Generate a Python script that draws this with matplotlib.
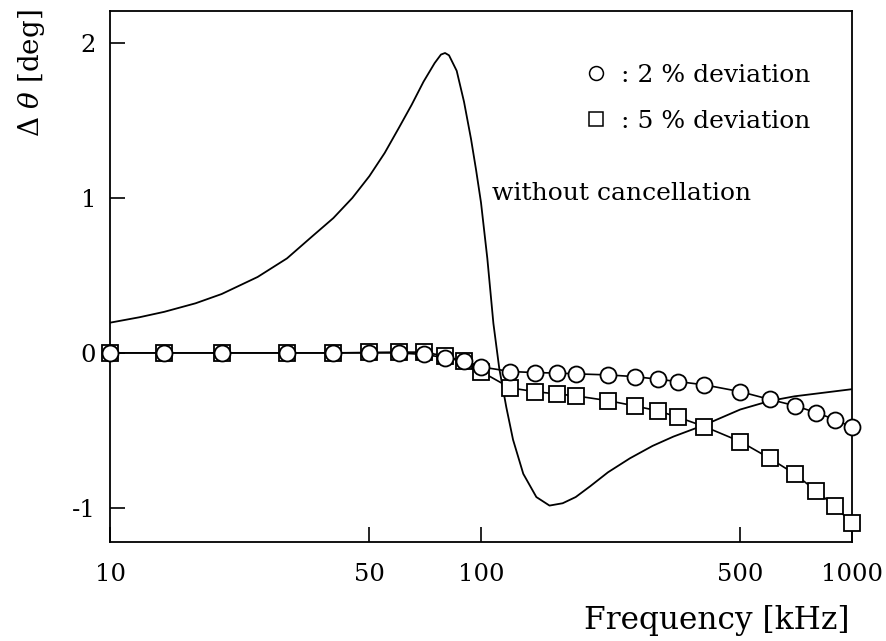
import matplotlib
matplotlib.use("Agg")
import matplotlib.pyplot as plt
from matplotlib.lines import Line2D

# ---- data ----
freq_pts = [10, 14, 20, 30, 40, 50, 60, 70, 80, 90, 100, 120, 140, 160, 180,
            220, 260, 300, 340, 400, 500, 600, 700, 800, 900, 1000]
dev2 = [0.0, 0.0, 0.0, 0.0, 0.0, 0.0, 0.0, -0.01, -0.03, -0.055, -0.09, -0.12,
        -0.127, -0.13, -0.135, -0.142, -0.153, -0.17, -0.185, -0.206, -0.25,
        -0.30, -0.34, -0.385, -0.43, -0.48]
dev5 = [0.0, 0.0, 0.0, 0.0, 0.0, 0.003, 0.005, 0.005, -0.02, -0.055, -0.12,
        -0.226, -0.25, -0.265, -0.277, -0.308, -0.342, -0.374, -0.415, -0.475,
        -0.572, -0.68, -0.78, -0.89, -0.99, -1.10]

freq_curve = [10, 12, 14, 17, 20, 25, 30, 35, 40, 45, 50, 55, 60, 65, 70, 75,
              78, 80, 82, 86, 90, 94, 97, 100, 104, 108, 112, 117, 122, 130, 141,
              153, 166, 180, 197, 220, 252, 290, 330, 400, 500, 600, 700, 850,
              1000]
no_cancel = [0.195, 0.23, 0.265, 0.32, 0.38, 0.49, 0.61, 0.75, 0.87, 1.0, 1.14,
             1.29, 1.45, 1.60, 1.75, 1.87, 1.925, 1.935, 1.92, 1.82, 1.62, 1.38,
             1.18, 0.97, 0.61, 0.19, -0.10, -0.35, -0.56, -0.78, -0.93, -0.985,
             -0.97, -0.93, -0.86, -0.77, -0.68, -0.60, -0.54, -0.465, -0.365,
             -0.31, -0.28, -0.255, -0.234]

xticks = [10, 50, 100, 500, 1000]
xticklabels = ["10", "50", "100", "500", "1000"]
yticks = [-1, 0, 1, 2]
yticklabels = ["-1", "0", "1", "2"]

# ---- figure ----
plt.rcParams['font.family'] = ['DejaVu Serif']
plt.rcParams['mathtext.fontset'] = 'dejavuserif'

fig = plt.figure(figsize=(8.86, 6.41), dpi=100)
ax = fig.add_axes([110/886, 1-542/641, 742/886, 531/641])

ax.plot(freq_curve, no_cancel, color='black', lw=1.3, zorder=2)
ax.plot(freq_pts, dev5, color='black', lw=1.2, marker='s', ms=11,
        mfc='white', mec='black', mew=1.3, zorder=3, clip_on=False)
ax.plot(freq_pts, dev2, color='black', lw=1.2, marker='o', ms=11.5,
        mfc='white', mec='black', mew=1.3, zorder=4, clip_on=False)

ax.set_xscale('log')
ax.set_xlim(10, 1000)
ax.set_ylim(-1.22, 2.206)
ax.set_xticks(xticks)
ax.set_xticklabels(xticklabels)
ax.set_yticks(yticks)
ax.set_yticklabels(yticklabels)
ax.minorticks_off()
ax.tick_params(direction='in', length=11, width=1.2, labelsize=17.5,
               top=False, right=False)
ax.tick_params(axis='x', pad=15)
ax.tick_params(axis='y', pad=10)
for s in ax.spines.values():
    s.set_linewidth(1.3)

ax.text((492-110)/742, (542-193)/531, "without cancellation",
        transform=ax.transAxes, fontsize=18, ha='left', va='center')

handles = [Line2D([], [], ls='none', marker='o', ms=10, mfc='white',
                  mec='black', mew=1.1),
           Line2D([], [], ls='none', marker='s', ms=10, mfc='white',
                  mec='black', mew=1.1)]
ax.legend(handles, [": 2 % deviation", ": 5 % deviation"], loc='upper left',
          bbox_to_anchor=((586-110)/742, (542-64)/531), frameon=False,
          fontsize=18, handlelength=0.8, handletextpad=0.6,
          labelspacing=0.92, borderaxespad=0, borderpad=0)

fig.text(850/886, 1-620/641, "Frequency [kHz]", fontsize=22.5,
         ha='right', va='center')
fig.text(32/886, 1-73/641, r"$\Delta\ \theta$ [deg]", fontsize=20,
         rotation=90, ha='center', va='center')

fig.savefig("out.png", dpi=100)
